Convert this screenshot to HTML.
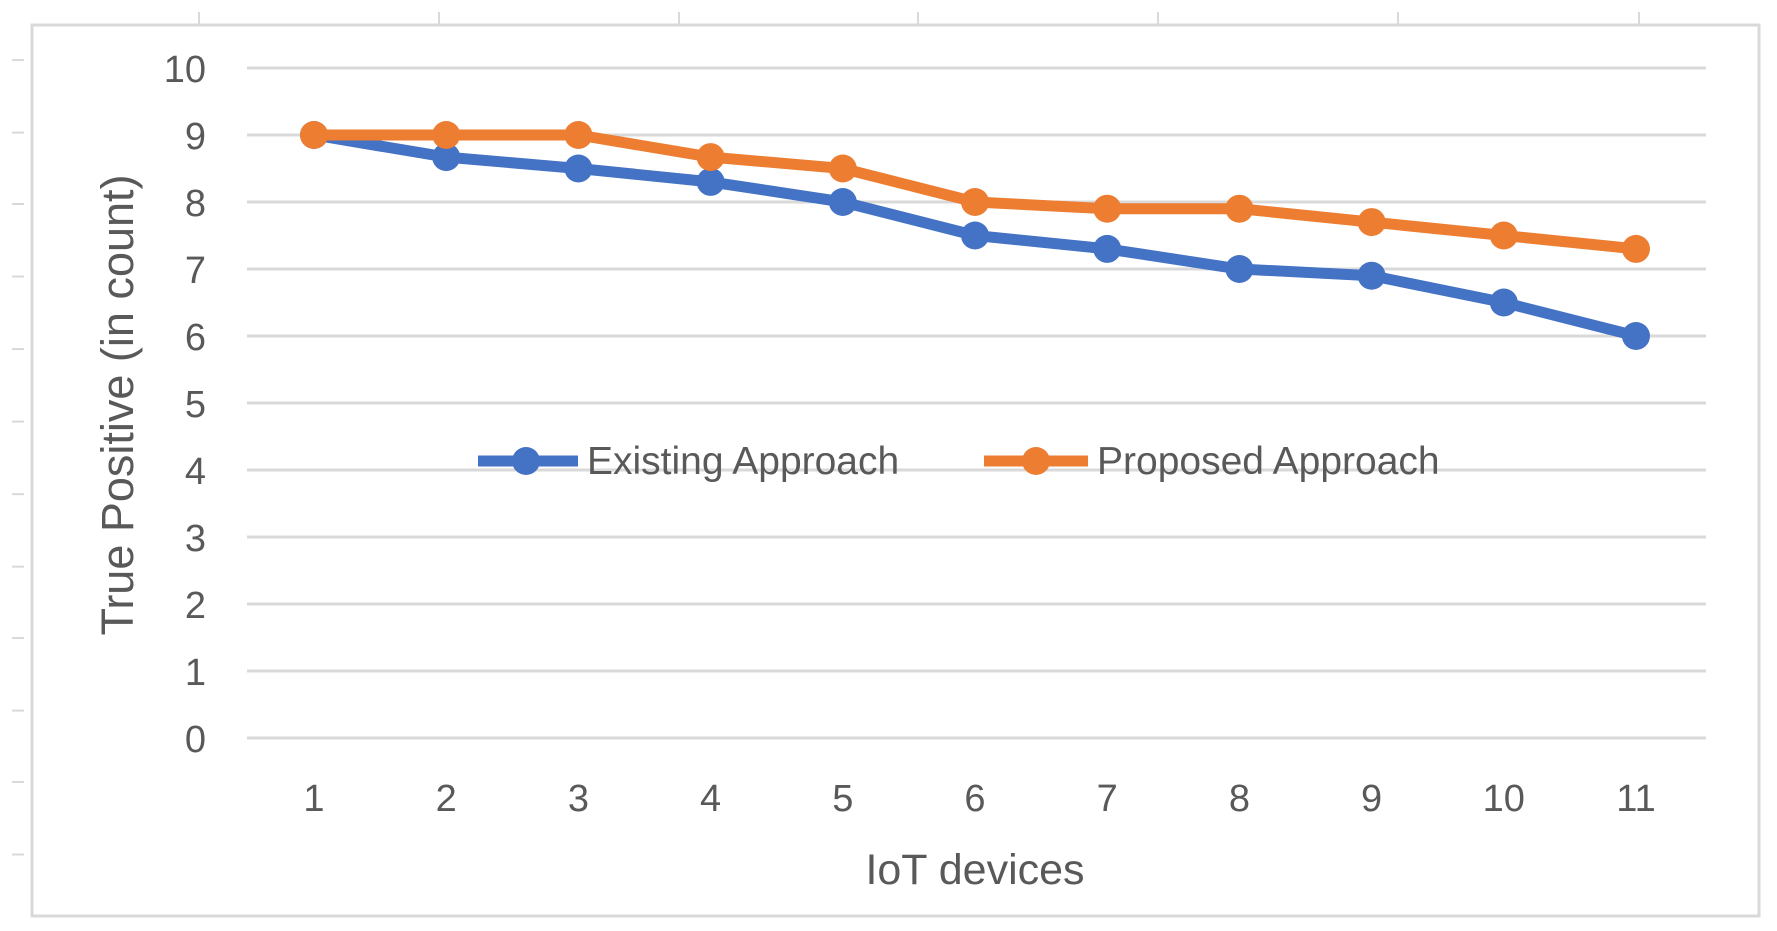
<!DOCTYPE html>
<html><head><meta charset="utf-8"><style>
html,body{margin:0;padding:0;background:#fff;}
svg{display:block;font-family:"Liberation Sans",sans-serif;}
</style></head><body>
<svg id="chart" width="1777" height="931" viewBox="0 0 1777 931">
<rect x="32" y="25" width="1727" height="891" fill="#fff" stroke="#d9d9d9" stroke-width="3"/>
<g id="outer"></g>
<g id="grid"></g>
<g id="series"></g>
<text transform="translate(133,405) rotate(-90)" text-anchor="middle" font-size="45" fill="#595959">True Positive (in count)</text>
<text x="975" y="884" text-anchor="middle" font-size="43" fill="#595959">IoT devices</text>
<g>
<g>
<line x1="478" y1="461" x2="578" y2="461" stroke="#4472c4" stroke-width="11"/>
<circle cx="526" cy="461" r="14" fill="#4472c4"/>
<text x="587" y="474" font-size="39" fill="#595959">Existing Approach</text>
</g>
<g>
<line x1="984" y1="461" x2="1088" y2="461" stroke="#ed7d31" stroke-width="11"/>
<circle cx="1036" cy="461" r="14" fill="#ed7d31"/>
<text x="1097" y="474" font-size="39" fill="#595959">Proposed Approach</text>
</g>
</g>
</svg>
<script>
const categories = ["1","2","3","4","5","6","7","8","9","10","11"];
const existing = [9,8.67,8.5,8.3,8,7.5,7.3,7,6.9,6.5,6];
const proposed = [9,9,9,8.67,8.5,8,7.9,7.9,7.7,7.5,7.3];
const yTicks = [0,1,2,3,4,5,6,7,8,9,10];
const NS="http://www.w3.org/2000/svg";
const x0=314, x1=1636, yBase=738, yTop=68, yMax=10;
const xs=i=>x0+(x1-x0)*i/(categories.length-1);
const ys=v=>yBase-(yBase-yTop)*v/yMax;
function mk(tag,attrs,parent){const e=document.createElementNS(NS,tag);for(const k in attrs)e.setAttribute(k,attrs[k]);parent.appendChild(e);return e;}
const outer=document.getElementById('outer');
[199,439,679,918,1158,1398,1639].forEach(x=>{const l=mk('line',{x1:x,y1:12,x2:x,y2:24,stroke:'#d9d9d9','stroke-width':2},outer);

});
[53,117,180,244,308,372,436,500,563,627,690,754].forEach(y=>{const l=mk('line',{x1:12,y1:y*1.1333,x2:24,y2:y*1.1333,stroke:'#d9d9d9','stroke-width':2},outer);

});
const grid=document.getElementById('grid');
yTicks.forEach(v=>{
 const l=mk('line',{x1:247,x2:1706,y1:ys(v),y2:ys(v),stroke:'#d9d9d9','stroke-width':3},grid);
 
 
 const t=mk('text',{x:206,y:ys(v)+14,'text-anchor':'end','font-size':38,fill:'#595959'},grid);
 t.textContent=v;
 
 
});
categories.forEach((c,i)=>{
 const t=mk('text',{x:xs(i),y:811,'text-anchor':'middle','font-size':38,fill:'#595959'},grid);
 t.textContent=c;
 
 
});
const sg=document.getElementById('series');
function draw(data,color,name){
 const p=mk('polyline',{points:data.map((v,i)=>xs(i)+','+ys(v)).join(' '),fill:'none',stroke:color,'stroke-width':11,'stroke-linejoin':'round'},sg);
 
 
 data.forEach((v,i)=>{const c=mk('circle',{cx:xs(i),cy:ys(v),r:14,fill:color},sg);
 
 });
}
draw(existing,'#4472c4','existing');
draw(proposed,'#ed7d31','proposed');
</script>
</body></html>
